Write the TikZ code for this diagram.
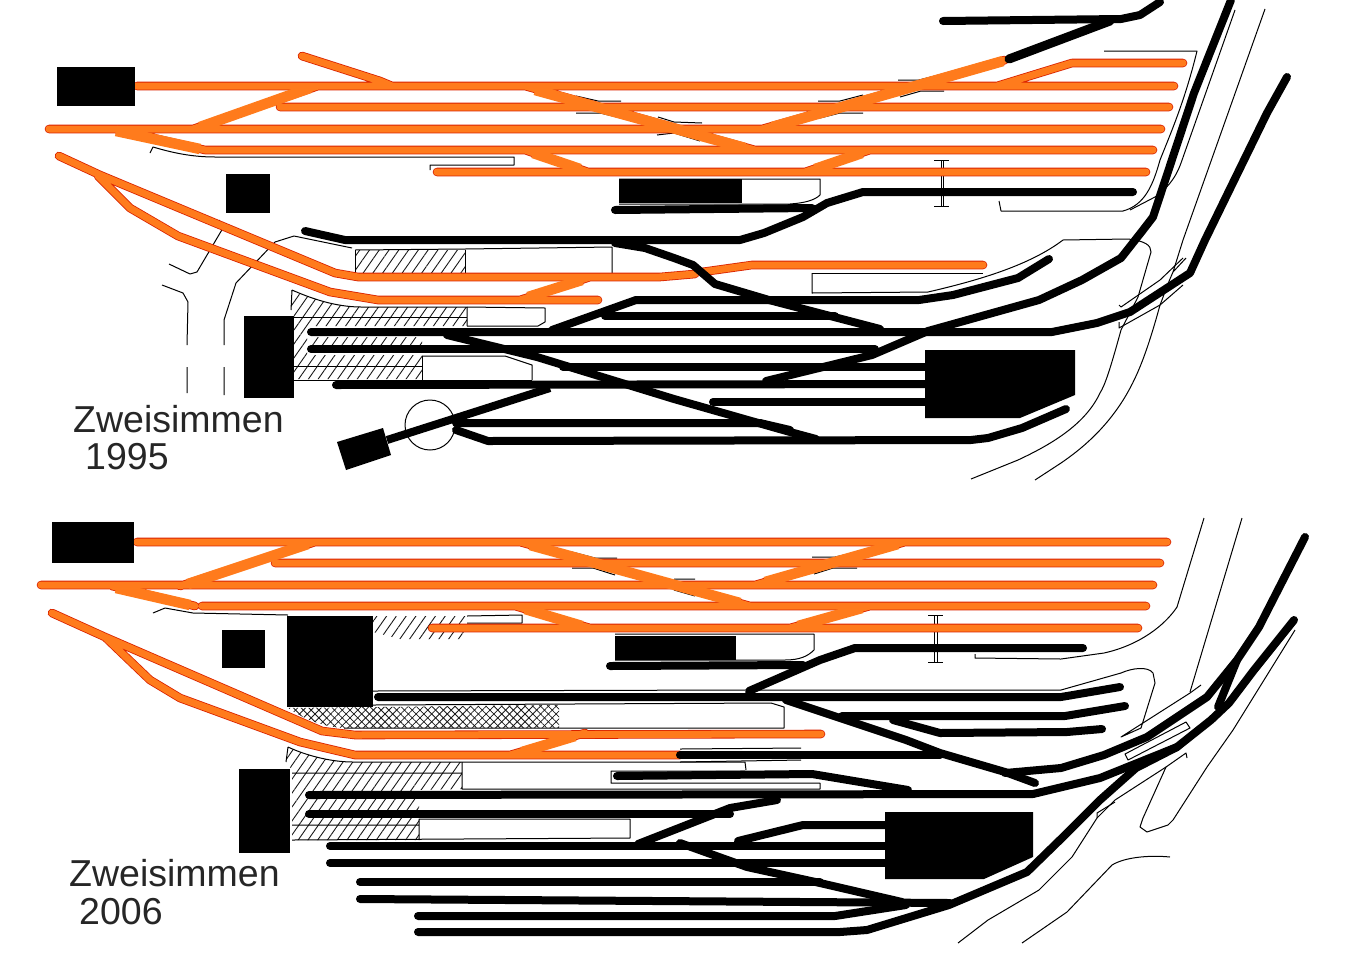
\documentclass[tikz,border=0pt]{standalone}
\usepackage{fontspec}
\setmainfont{Liberation Sans}
\usetikzlibrary{patterns.meta}

\begin{document}
\begin{tikzpicture}[x=1pt,y=-1pt]
	\tikzstyle{thin line}=[draw=black,line width=1pt,line join=round]
	\tikzstyle{hatched}=[pattern={Lines[angle=55,distance=8pt,line width=0.9pt]},pattern color=black!90]
	\tikzstyle{crossed}=[pattern={Lines[angle=45,distance=5.5pt,line width=0.8pt]},pattern color=black!90]
	\tikzstyle{crossed back}=[pattern={Lines[angle=-45,distance=5.5pt,line width=0.8pt]},pattern color=black!90]
	\tikzstyle{track}=[draw=black,line width=8pt,line cap=round,line join=round]
	\tikzstyle{orange track}=[draw=orange!30!red!85!black,line width=0.8pt,double=trackorange,double distance=7pt,line cap=round,line join=round]
	\tikzstyle{orange link}=[draw=trackorange,line width=10.5pt]
	\tikzstyle{place name}=[anchor=base west,inner sep=0pt,text=black!85,font=\fontsize{37.5}{40}\selectfont]
	\definecolor{trackorange}{HTML}{FF7B1C}

	\useasboundingbox (0,0) rectangle (1348,959);
	\clip (0,0) rectangle (1348,959);

	\fill[hatched] (292,290) .. controls (310,298) and (335,307) .. (361,307) -- (467,307) -- (467,326) -- (307,326) -- (307,355) -- (422,355) -- (422,379) -- (294,379) -- (294,316) -- (291,310) -- cycle;
	\fill[hatched] (310,337) rectangle (422,345);
	\fill[hatched] (355,250) rectangle (465,273);
	\draw[thin line] (292,290) .. controls (310,298) and (335,307) .. (361,307) -- (467,307) -- (467,326);
	\draw[thin line] (292,290) -- (291,310);
	\draw[thin line] (294,317) -- (467,317);
	\draw[thin line] (294,366) -- (422,366);
	\draw[thin line] (294,380) -- (532,380);
	\draw[thin line] (355,250) -- (355,273) (465,250) -- (465,273);
	\draw[thin line] (355,250) -- (465,249) -- (612,247) -- (612,273);
	\draw[thin line] (467,307) -- (545,308) -- (545,322) -- (538,326) -- (467,326);
	\draw[thin line] (422,356) -- (422,380);
	\draw[thin line] (422,356) -- (505,356) -- (532,365) -- (532,380);
	\draw[thin line] (619,179) -- (820,179) -- (820,195) .. controls (815,200) and (805,203) .. (790,204) -- (619,204);
	\draw[thin line] (150,153) -- (153,147) .. controls (170,152) and (190,157) .. (215,157) -- (514,157) -- (514,165) -- (430,165) -- (430,170);
	\draw[thin line] (1104,51) -- (1197,51) .. controls (1185,100) and (1172,130) .. (1160,160) .. controls (1153,185) and (1145,205) .. (1123,211) -- (1001,211) -- (999,201);
	\draw[thin line] (1235,10) -- (1181,163) .. controls (1175,180) and (1165,190) .. (1155,197) -- (1130,210);
	\draw[thin line] (1265,9) -- (1183,240) -- (1173,272) -- (1186,258);
	\draw[thin line] (1173,272) .. controls (1165,290) and (1163,298) .. (1160,305) .. controls (1145,360) and (1135,380) .. (1125,397) .. controls (1105,430) and (1080,450) .. (1061,463) -- (1035,480);
	\draw[thin line] (812,273) -- (983,273);
	\draw[thin line] (812,273) -- (812,293) -- (928,292) .. controls (980,280) and (1030,265) .. (1063,240) -- (1128,239) .. controls (1145,241) and (1151,245) .. (1151,252) -- (1138,297) -- (1121,330) .. controls (1110,370) and (1105,385) .. (1100,393) .. controls (1085,425) and (1050,445) .. (1018,460) -- (971,479);
	\draw[thin line] (1119,305) -- (1121,307) -- (1160,280) -- (1183,258);
	\draw[thin line] (1119,322) -- (1119,328) -- (1160,305) -- (1183,285);
	\draw[thin line] (169,264) -- (190,274) -- (197,272) -- (223,228) -- (219,220);
	\draw[thin line] (162,285) -- (183,293) -- (188,302) -- (187,345) (187,367) -- (187,393);
	\draw[thin line] (352,248) -- (294,236) -- (275,242) -- (236,283) -- (224,320) -- (224,345) (224,367) -- (224,395);
	\draw[thin line] (576,96) -- (598,101) -- (621,101) (576,113) -- (600,113) -- (621,118) (658,117) -- (674,122) -- (702,123) (657,135) -- (674,133) -- (700,141);
	\draw[thin line] (818,101) -- (840,101) -- (863,95) (820,118) -- (840,113) -- (863,113) (898,80) -- (919,80) -- (943,74) (900,97) -- (921,91) -- (944,91);
	\draw[thin line] (934,160) -- (949,160) (934,206) -- (949,206) (941,160) -- (941,206) (943,160) -- (943,206);
	\draw[thin line] (430,425) circle (25pt);

	\fill[crossed] (288,708) -- (559,705) -- (559,728) -- (344,728) .. controls (325,727) and (305,720) .. cycle;
	\fill[crossed back] (288,708) -- (559,705) -- (559,728) -- (344,728) .. controls (325,727) and (305,720) .. cycle;
	\fill[hatched] (373,616) -- (467,616) -- (467,639) -- (400,639) -- (373,632) -- cycle;
	\fill[hatched] (288,747) .. controls (305,755) and (330,762) .. (353,762) -- (462,762) -- (462,789) -- (419,790) -- (419,840) -- (292,840) -- (292,770) -- (286,762) -- cycle;
	\draw[thin line] (288,747) -- (286,762) (288,747) .. controls (305,755) and (330,762) .. (353,762) -- (745,762) -- (746,770);
	\draw[thin line] (292,773) -- (462,773) (292,825) -- (419,825) (292,840) -- (630,838) -- (630,819) -- (419,819) -- (419,840) (462,762) -- (462,789) -- (820,789) -- (820,783) -- (611,783) -- (611,771) -- (745,771);
	\draw[thin line] (680,749) -- (801,748) (680,762) -- (801,760);
	\draw[thin line] (373,691) -- (745,690) (756,690) -- (1061,690) -- (1121,673) .. controls (1132,668) and (1148,666) .. (1153,673) -- (1155,683) -- (1141,728) -- (1121,737) -- (1190,693) -- (1201,685);
	\draw[thin line] (373,705) -- (771,703) -- (784,707) -- (784,728) -- (344,728);
	\draw[thin line] (467,616) -- (522,615) -- (522,623) -- (467,623);
	\draw[thin line] (153,613) -- (165,608) -- (193,613) -- (288,615);
	\draw[thin line] (615,634) -- (814,634) -- (814,650) .. controls (808,656) and (800,660) .. (785,660) -- (615,660);
	\draw[thin line] (1204,518) -- (1177,607) .. controls (1165,625) and (1140,645) .. (1104,653) -- (1061,659) -- (975,658) -- (975,654);
	\draw[thin line] (1242,518) -- (1190,692);
	\draw[thin line] (1295,630) -- (1233,730) -- (1207,767) -- (1173,820) -- (1168,825) -- (1147,832) -- (1140,827) -- (1143,818) -- (1166,767) -- (1186,753) -- (1187,758);
	\draw[thin line] (958,943) -- (988,920) -- (1039,890) -- (1072,857) -- (1097,818) -- (1115,800) -- (1166,767);
	\draw[thin line] (1097,818) -- (1097,813) -- (1115,802);
	\draw[thin line] (1022,943) -- (1067,912) -- (1112,865) .. controls (1125,857) and (1150,855) .. (1170,857);
	\draw[thin line] (1125,754) -- (1186,722) -- (1190,728) -- (1128,760) -- cycle;
	\draw[thin line] (572,552) -- (595,558) -- (617,558) (572,568) -- (593,568) -- (615,575) (812,557) -- (835,557) -- (857,552) (814,574) -- (833,568) -- (857,568) (674,579) -- (695,579) (674,590) -- (695,596);
	\draw[thin line] (928,615) -- (943,615) (928,662) -- (943,662) (934,615) -- (934,662) (937,615) -- (937,662);

	\draw[orange track] (137,86) -- (1174,86)
		(1072,63) -- (1183,63) (997,86) -- (1072,63)
		(280,107) -- (1169,107)
		(49,129) -- (1161,129)
		(210,150) -- (1153,150)
		(437,172) -- (1146,172)
		(302,56) -- (380,81) -- (392,86)
		(193,129) -- (318,86)
		(525,86) -- (755,150)
		(525,150) -- (588,172)
		(762,129) -- (1005,60)
		(805,172) -- (870,150)
		(115,129) -- (205,150) -- (230,150)
		(59,156) -- (100,175) -- (335,273) -- (358,277) -- (660,277) -- (695,274)
		(702,272) -- (752,265) -- (983,265)
		(98,176) -- (130,208) -- (178,236) -- (330,292) -- (378,300) -- (598,300)
		(520,300) -- (590,277);
	\draw[orange track] (137,542) -- (1167,542)
		(275,563) -- (1160,563)
		(41,585) -- (1153,585)
		(202,606) -- (1146,606)
		(432,628) -- (1138,628)
		(180,586) -- (315,542)
		(112,586) -- (195,606)
		(520,542) -- (750,606)
		(515,606) -- (590,628)
		(755,585) -- (905,542)
		(790,628) -- (870,606)
		(52,613) -- (105,637) -- (322,731) -- (355,735) -- (821,734)
		(105,637) -- (150,680) -- (180,698) -- (300,742) -- (355,755) -- (680,755)
		(510,755) -- (585,733);
	\draw[orange link] (200,127) -- (310,88) (116,131) -- (200,149) (535,90) -- (745,148) (533,153) -- (580,169) (772,127) -- (1003,61) (815,169) -- (862,153) (528,297) -- (582,280);
	\draw[orange link] (188,584) -- (308,544) (116,588) -- (190,605) (530,545) -- (740,603) (525,609) -- (582,626) (765,582) -- (898,544) (798,626) -- (862,608) (522,752) -- (575,736);

	\fill[black] (57,67) rectangle (135,106);
	\fill[black] (226,174) rectangle (270,213);
	\fill[black] (244,316) rectangle (294,398);
	\fill[black] (619,179) rectangle (742,203);
	\fill[black] (925,350) -- (1075,350) -- (1075,395) -- (1020,418) -- (925,418) -- cycle;
	\fill[black] (337,442) -- (383,428) -- (391,455) -- (346,470) -- cycle;

	\draw[track] (943,21) -- (1121,19) -- (1140,15) -- (1160,2);
	\draw[track,line width=9pt] (1009,59) -- (1110,21);
	\draw[track] (615,210) -- (812,208);
	\draw[track] (305,231) -- (345,240) -- (740,240) -- (764,233) -- (803,217) -- (827,203) -- (863,192) -- (1133,192);
	\draw[track] (615,243) -- (645,248) -- (674,258) -- (693,265) -- (715,284) -- (769,300) -- (880,329);
	\draw[track] (552,330) -- (636,300) -- (919,300) -- (953,295) -- (1018,278) -- (1049,259);
	\draw[track] (605,316) -- (835,316);
	\draw[track] (311,332) -- (1052,332) -- (1097,323) -- (1130,312) -- (1190,273) -- (1205,240) -- (1267,113) -- (1287,77);
	\draw[track] (766,381) -- (872,355) -- (928,331) -- (1039,300) -- (1082,280) -- (1121,258) -- (1143,230) -- (1153,217) -- (1194,93) -- (1231,0);
	\draw[track] (311,349) -- (875,349);
	\draw[track] (563,367) -- (927,367);
	\draw[track] (336,385) -- (927,384);
	\draw[track] (713,402) -- (927,402);
	\draw[track] (447,335) -- (537,357) -- (674,399) -- (790,432) -- (816,439);
	\draw[track] (456,423) -- (760,423) -- (790,430);
	\draw[track] (456,430) -- (488,441) -- (971,440) -- (988,438) -- (1022,428) -- (1066,409);
	\draw[track,line cap=butt] (387,440) -- (550,388);

	\fill[black] (52,522) rectangle (134,563);
	\fill[black] (222,630) rectangle (265,668);
	\fill[black] (287,616) rectangle (373,707);
	\fill[black] (239,769) rectangle (290,853);
	\fill[black] (615,636) rectangle (736,660);
	\fill[black] (885,812) -- (1033,812) -- (1033,857) -- (984,879) -- (885,879) -- cycle;

	\draw[track] (610,666) -- (803,665);
	\draw[track] (749,691) -- (820,660) -- (855,648) -- (1083,648);
	\draw[track] (378,697) -- (1061,697) -- (1120,687);
	\draw[track] (786,700) -- (837,717) -- (906,740) -- (940,753) -- (1005,772) -- (1035,783);
	\draw[track] (842,716) -- (1065,716) -- (1125,706);
	\draw[track] (893,720) -- (940,733) -- (1067,732) -- (1102,729);
	\draw[track] (680,755) -- (940,755);
	\draw[track] (617,776) -- (812,774) -- (908,790);
	\draw[track] (1005,773) -- (1061,768) -- (1104,755) -- (1147,737) -- (1207,697) -- (1237,660) -- (1259,627) -- (1305,537);
	\draw[track] (1033,794) -- (1100,778) -- (1177,747) -- (1211,720) -- (1229,703) -- (1254,670) -- (1294,620);
	\draw[track] (1237,660) -- (1218,707);
	\draw[track] (309,795) -- (1033,794);
	\draw[track] (309,814) -- (730,814);
	\draw[track] (638,844) -- (730,808) -- (777,800);
	\draw[track] (330,846) -- (885,846);
	\draw[track] (330,863) -- (885,863);
	\draw[track] (360,882) -- (820,882);
	\draw[track] (360,899) -- (950,903);
	\draw[track] (418,916) -- (835,916) -- (906,905);
	\draw[track] (418,932) -- (840,932) -- (867,930) -- (949,905) -- (1027,872) -- (1065,835) -- (1100,800) -- (1136,768) -- (1177,747);
	\draw[track] (680,843) -- (747,867) -- (820,883) -- (902,902);
	\draw[track] (738,841) -- (803,825) -- (885,825);

	\node[place name](name1995) at (73,432){Zweisimmen};
	\node[place name](year1995) at (85,469){1995};
	\node[place name](name2006) at (69,886){Zweisimmen};
	\node[place name](year2006) at (79,924){2006};
\end{tikzpicture}
\end{document}
